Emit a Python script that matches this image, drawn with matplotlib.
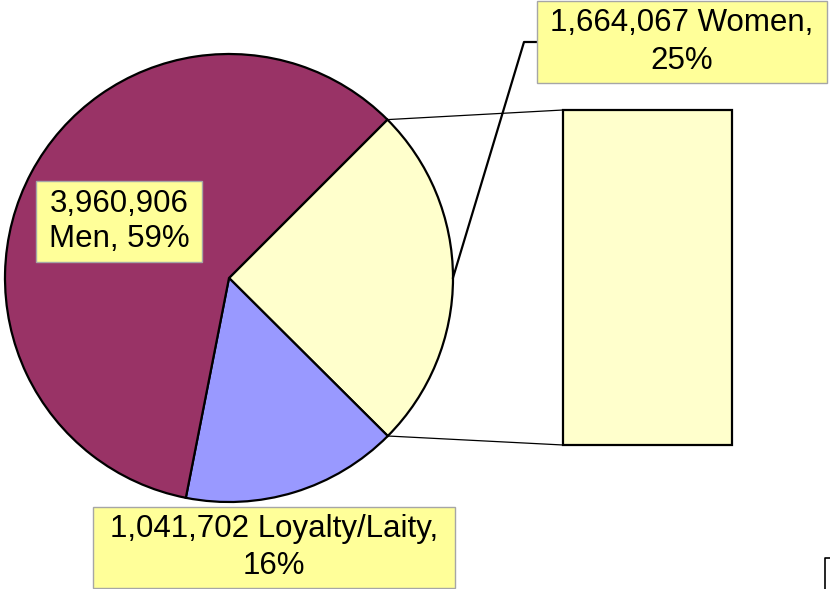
import numpy as np
import matplotlib
matplotlib.use("Agg")
import matplotlib.pyplot as plt
from matplotlib.patches import Rectangle

plt.rcParams['font.family'] = ['Liberation Sans', 'DejaVu Sans']

# slice data (pie order: Women, Loyalty/Laity, Men)
labels = ['Women', 'Loyalty/Laity', 'Men']
values = [1664067, 1041702, 3960906]
colors = ['#FFFFCC', '#9999FF', '#993366']

W, H = 830, 589
fig = plt.figure(figsize=(W / 100, H / 100), dpi=100)
ax = fig.add_axes([0, 0, 1, 1])

cx, cy, r = 229, H - 278, 224
start = 45
wedges, _ = ax.pie(values, colors=colors, startangle=start, counterclock=False,
                   center=(cx, cy), radius=r,
                   wedgeprops=dict(edgecolor='black', linewidth=1.6))

total = sum(values)
pct = [v / total for v in values]

# bar of pie for the Women slice
a1 = np.deg2rad(start)
a2 = np.deg2rad(start - 360 * pct[0])
bx0, bx1, by0, by1 = 563, 732, H - 445, H - 110
ax.add_patch(Rectangle((bx0, by0), bx1 - bx0, by1 - by0, facecolor=colors[0],
                       edgecolor='black', linewidth=1.6, zorder=3))
ax.plot([cx + r * np.cos(a1), bx0], [cy + r * np.sin(a1), by1], color='black', lw=0.9, zorder=2)
ax.plot([cx + r * np.cos(a2), bx0], [cy + r * np.sin(a2), by0], color='black', lw=0.9, zorder=2)

def fmt(i, sep):
    return f"{values[i]:,} {labels[i]},{sep}{pct[i] * 100:.0f}%"

def label(text, x0, y0, x1, y1, ls=1.32):
    ax.add_patch(Rectangle((x0, H - y1), x1 - x0, y1 - y0, facecolor='#FFFF99',
                           edgecolor='#A6A6A6', linewidth=1, zorder=4))
    ax.text((x0 + x1) / 2, H - (y0 + y1) / 2, text, ha='center', va='center',
            fontsize=22.5, linespacing=ls, zorder=5)

label(fmt(0, '\n'), 537, 1, 827, 83)
label(fmt(1, '\n'), 93, 507, 455, 588)
label(f"{values[2]:,}\n{labels[2]}, {pct[2] * 100:.0f}%", 36, 181, 202, 262, ls=1.22)

# leader line for Women label
am = (a1 + a2) / 2
ax.plot([cx + r * np.cos(am), 524, 537], [cy + r * np.sin(am), H - 42, H - 42],
        color='black', lw=1.6, zorder=3)

# small corner mark at bottom right
ax.plot([825, 825, 830], [0, H - 558, H - 558], color='black', lw=1.2)

ax.set_xlim(0, W)
ax.set_ylim(0, H)
ax.set_aspect('equal')
ax.axis('off')
fig.savefig('out.png', dpi=100)
